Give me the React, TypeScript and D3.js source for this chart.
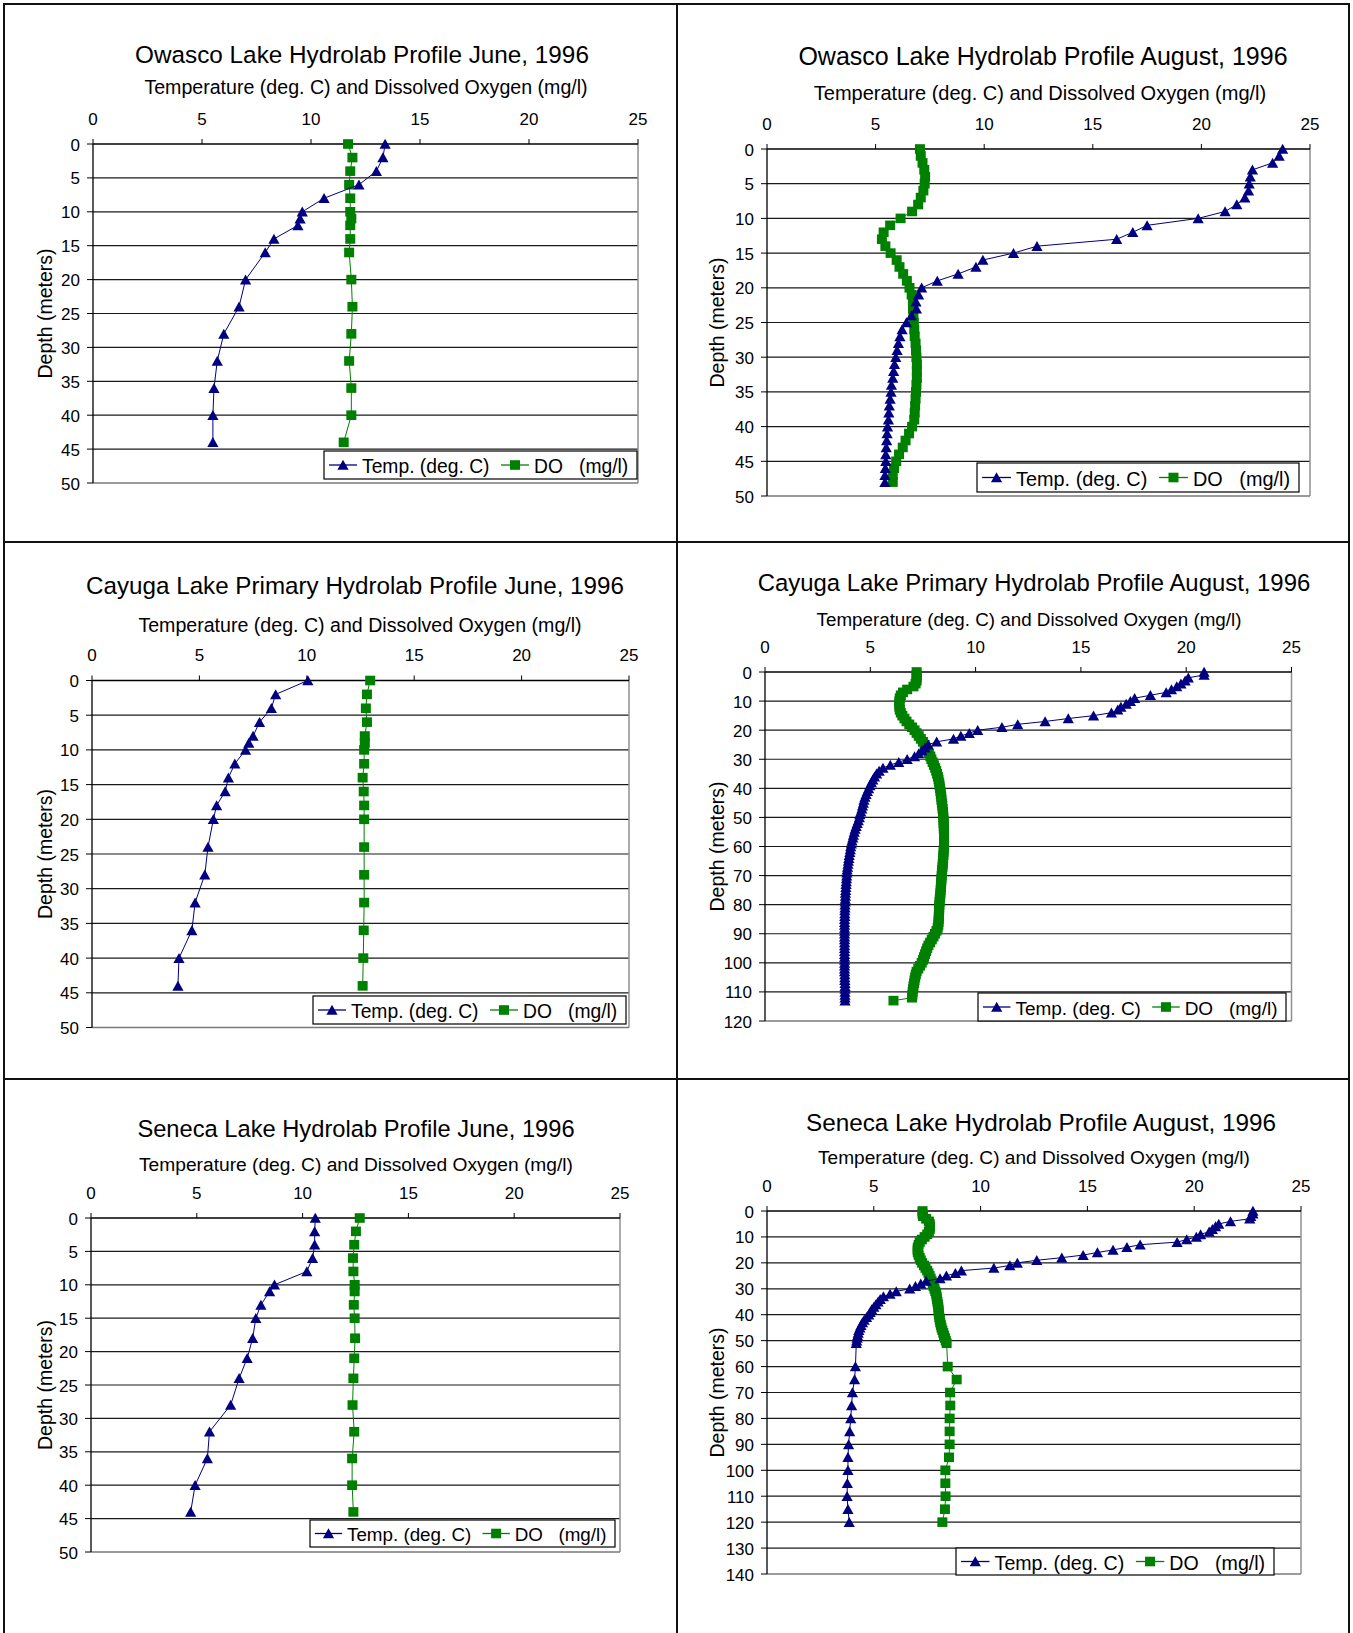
import React from 'react';
import * as d3 from 'd3';

const W = 1353;
const H = 1633;
const FONT = '"Liberation Sans", Arial, Helvetica, sans-serif';
const TEMP_COLOR = '#000080';
const DO_COLOR = '#008000';

// ---- tick labels ----
const xTicks = [0, 5, 10, 15, 20, 25];
const depthTicks50 = [0, 5, 10, 15, 20, 25, 30, 35, 40, 45, 50];
const depthTicks120 = [0, 10, 20, 30, 40, 50, 60, 70, 80, 90, 100, 110, 120];
const depthTicks140 = [0, 10, 20, 30, 40, 50, 60, 70, 80, 90, 100, 110, 120, 130, 140];

// ---- Owasco June ----
const owascoJuneDepth = [0, 2, 4, 6, 8, 10, 11, 12, 14, 16, 20, 24, 28, 32, 36, 40, 44];
const owascoJuneTemp = [13.4, 13.3, 13.0, 12.2, 10.6, 9.6, 9.5, 9.4, 8.3, 7.9, 7.0, 6.7, 6.0, 5.7, 5.55, 5.5, 5.5];
const owascoJuneDO = [11.7, 11.9, 11.8, 11.75, 11.8, 11.8, 11.85, 11.8, 11.8, 11.75, 11.85, 11.9, 11.85, 11.75, 11.85, 11.85, 11.5];

// ---- Owasco August ----
const owascoAugDepth = [
  0, 1, 2, 3, 4, 5, 6, 7, 8, 9, 10, 11, 12, 13, 14, 15, 16, 17, 18, 19, 20, 21, 22, 23, 24,
  25, 26, 27, 28, 29, 30, 31, 32, 33, 34, 35, 36, 37, 38, 39, 40, 41, 42, 43, 44, 45, 46, 47, 48,
];
const owascoAugTemp = [
  23.74, 23.58, 23.28, 22.35, 22.25, 22.2, 22.17, 22.0, 21.63, 21.09,
  19.85, 17.5, 16.84, 16.1, 12.43, 11.35, 9.94, 9.62, 8.8, 7.84,
  7.12, 6.98, 6.86, 6.88, 6.65, 6.42, 6.22, 6.12, 6.05, 5.99,
  5.93, 5.87, 5.83, 5.79, 5.73, 5.71, 5.67, 5.63, 5.61, 5.59,
  5.55, 5.53, 5.51, 5.49, 5.47, 5.47, 5.45, 5.43, 5.43,
];
const owascoAugDO = [
  7.04, 7.08, 7.16, 7.24, 7.28, 7.26, 7.2, 7.08, 6.96, 6.68,
  6.15, 5.67, 5.37, 5.29, 5.45, 5.69, 5.97, 6.1, 6.27, 6.44,
  6.56, 6.66, 6.72, 6.72, 6.74, 6.76, 6.78, 6.8, 6.84, 6.86,
  6.88, 6.9, 6.9, 6.9, 6.88, 6.86, 6.84, 6.82, 6.8, 6.78,
  6.68, 6.54, 6.38, 6.25, 6.08, 5.95, 5.85, 5.79, 5.79,
];

// ---- Cayuga June ----
const cayugaJuneDepth = [0, 2, 4, 6, 8, 9, 10, 12, 14, 16, 18, 20, 24, 28, 32, 36, 40, 44];
const cayugaJuneTemp = [10.05, 8.55, 8.35, 7.8, 7.5, 7.3, 7.15, 6.65, 6.35, 6.2, 5.8, 5.65, 5.4, 5.25, 4.8, 4.65, 4.05, 4.0];
const cayugaJuneDO = [12.95, 12.8, 12.75, 12.8, 12.7, 12.7, 12.67, 12.67, 12.6, 12.65, 12.67, 12.67, 12.67, 12.67, 12.67, 12.65, 12.63, 12.6];

// ---- Cayuga August ----
const cayugaAugDepth = [
  0, 1, 2, 3, 4, 5, 6, 7, 8, 9, 10, 11, 12, 13, 14, 15, 16, 17, 18, 19,
  20, 21, 22, 23, 24, 25, 26, 27, 28, 29, 30, 31, 32, 33, 34, 35, 36, 37, 38, 39,
  40, 41, 42, 43, 44, 45, 46, 47, 48, 49, 50, 51, 52, 53, 54, 55, 56, 57, 58, 59,
  60, 61, 62, 63, 64, 65, 66, 67, 68, 69, 70, 71, 72, 73, 74, 75, 76, 77, 78, 79,
  80, 81, 82, 83, 84, 85, 86, 87, 88, 89, 90, 91, 92, 93, 94, 95, 96, 97, 98, 99,
  100, 101, 102, 103, 104, 105, 106, 107, 108, 109, 110, 111, 112, 113,
];
const cayugaAugTemp = [
  20.85, 20.85, 20.1, 19.95, 19.75, 19.55, 19.3, 19.05, 18.3, 17.55,
  17.35, 17.15, 16.9, 16.75, 16.45, 15.6, 14.4, 13.3, 12.0, 11.25,
  10.1, 9.7, 9.3, 8.95, 8.15, 7.75, 7.6, 7.45, 7.3, 7.1,
  6.75, 6.35, 5.95, 5.6, 5.42, 5.3, 5.2, 5.12, 5.05, 4.98,
  4.92, 4.86, 4.8, 4.75, 4.7, 4.67, 4.63, 4.6, 4.55, 4.5,
  4.48, 4.43, 4.38, 4.33, 4.28, 4.24, 4.2, 4.17, 4.13, 4.1,
  4.07, 4.05, 4.03, 4.0, 3.98, 3.96, 3.94, 3.92, 3.9, 3.89,
  3.88, 3.87, 3.86, 3.85, 3.84, 3.83, 3.82, 3.82, 3.81, 3.81,
  3.8, 3.8, 3.79, 3.79, 3.79, 3.78, 3.78, 3.78, 3.78, 3.78,
  3.78, 3.78, 3.78, 3.78, 3.78, 3.78, 3.78, 3.78, 3.78, 3.78,
  3.78, 3.78, 3.78, 3.78, 3.79, 3.79, 3.79, 3.8, 3.8, 3.8,
  3.8, 3.8, 3.8, 3.8,
];
const cayugaAugDO = [
  7.2, 7.2, 7.2, 7.2, 7.15, 7.05, 6.75, 6.55, 6.45, 6.4,
  6.38, 6.38, 6.38, 6.4, 6.45, 6.52, 6.62, 6.72, 6.85, 6.98,
  7.1, 7.2, 7.3, 7.4, 7.5, 7.58, 7.65, 7.72, 7.78, 7.85,
  7.9, 7.96, 8.02, 8.08, 8.13, 8.17, 8.21, 8.24, 8.27, 8.29,
  8.31, 8.33, 8.35, 8.37, 8.38, 8.4, 8.42, 8.43, 8.45, 8.46,
  8.47, 8.48, 8.48, 8.49, 8.49, 8.5, 8.5, 8.5, 8.5, 8.5,
  8.5, 8.49, 8.48, 8.47, 8.46, 8.45, 8.44, 8.43, 8.41, 8.4,
  8.39, 8.38, 8.37, 8.36, 8.35, 8.34, 8.33, 8.32, 8.3, 8.29,
  8.28, 8.27, 8.27, 8.26, 8.25, 8.25, 8.24, 8.23, 8.2, 8.14,
  8.07, 8.0, 7.92, 7.84, 7.76, 7.7, 7.65, 7.6, 7.55, 7.5,
  7.44, 7.36, 7.28, 7.2, 7.16, 7.13, 7.1, 7.08, 7.05, 7.03,
  7.01, 7.0, 6.98, 6.1,
];

// ---- Seneca June ----
const senecaJuneDepth = [0, 2, 4, 6, 8, 10, 11, 13, 15, 18, 21, 24, 28, 32, 36, 40, 44];
const senecaJuneTemp = [10.6, 10.57, 10.57, 10.47, 10.2, 8.67, 8.44, 8.03, 7.79, 7.64, 7.38, 7.0, 6.6, 5.6, 5.5, 4.92, 4.71];
const senecaJuneDO = [12.7, 12.52, 12.44, 12.38, 12.4, 12.46, 12.46, 12.42, 12.46, 12.48, 12.44, 12.4, 12.36, 12.44, 12.34, 12.34, 12.4];

// ---- Seneca August ----
const senecaAugDepth = [
  0, 1, 2, 3, 4, 5, 6, 7, 8, 9, 10, 11, 12, 13, 14, 15, 16, 17, 18, 19,
  20, 21, 22, 23, 24, 25, 26, 27, 28, 29, 30, 31, 32, 33, 34, 35, 36, 37, 38, 39,
  40, 41, 42, 43, 44, 45, 46, 47, 48, 49, 50, 51,
  60, 65, 70, 75, 80, 85, 90, 95, 100, 105, 110, 115, 120,
];
const senecaAugTemp = [
  22.75, 22.75, 22.65, 22.6, 21.7, 21.15, 21.0, 20.85, 20.7, 20.3,
  20.1, 19.65, 19.2, 17.47, 16.85, 16.2, 15.47, 14.8, 13.8, 12.63,
  11.72, 11.37, 10.62, 9.1, 8.82, 8.4, 8.1, 7.45, 7.2, 6.95,
  6.68, 6.05, 5.76, 5.45, 5.3, 5.2, 5.1, 5.0, 4.9, 4.83,
  4.76, 4.66, 4.55, 4.47, 4.4, 4.35, 4.3, 4.27, 4.24, 4.22,
  4.2, 4.18,
  4.14, 4.1, 4.0, 3.96, 3.92, 3.87, 3.82, 3.79, 3.79, 3.76, 3.75, 3.79, 3.85,
];
const senecaAugDO = [
  7.28, 7.28, 7.3, 7.45, 7.58, 7.62, 7.63, 7.62, 7.58, 7.5,
  7.38, 7.25, 7.15, 7.1, 7.06, 7.05, 7.06, 7.1, 7.15, 7.2,
  7.26, 7.35, 7.42, 7.5, 7.56, 7.61, 7.66, 7.71, 7.76, 7.8,
  7.84, 7.88, 7.92, 7.94, 7.96, 7.98, 8.0, 8.02, 8.03, 8.04,
  8.05, 8.07, 8.09, 8.11, 8.14, 8.17, 8.21, 8.25, 8.29, 8.33,
  8.37, 8.41,
  8.46, 8.88, 8.57, 8.58, 8.55, 8.55, 8.55, 8.52, 8.35, 8.35, 8.36, 8.33, 8.21,
];

const SUBTITLE = 'Temperature (deg. C) and Dissolved Oxygen (mg/l)';

// layout of each panel (plot rect, text positions, legend box)
const panels = [
  {
    title: 'Owasco Lake Hydrolab Profile June, 1996',
    depth: owascoJuneDepth, temp: owascoJuneTemp, dox: owascoJuneDO, yTicks: depthTicks50,
    x: 93, y: 144, w: 545, h: 339, titleX: 362, titleY: 54, tfs: 24.3, subX: 366, subY: 87, sfs: 19.6,
    yTitleX: 45, legend: [324, 451, 313, 28],
  },
  {
    title: 'Owasco Lake Hydrolab Profile August, 1996',
    depth: owascoAugDepth, temp: owascoAugTemp, dox: owascoAugDO, yTicks: depthTicks50,
    x: 767, y: 149, w: 543, h: 347, titleX: 1043, titleY: 56, tfs: 25, subX: 1040, subY: 93, sfs: 20,
    yTitleX: 717, legend: [977, 463, 322, 29],
  },
  {
    title: 'Cayuga Lake Primary Hydrolab Profile June, 1996',
    depth: cayugaJuneDepth, temp: cayugaJuneTemp, dox: cayugaJuneDO, yTicks: depthTicks50,
    x: 92, y: 680.5, w: 537, h: 347, titleX: 355, titleY: 585, tfs: 24.2, subX: 360, subY: 625, sfs: 19.6,
    yTitleX: 45, legend: [313, 996, 313, 28],
  },
  {
    title: 'Cayuga Lake Primary Hydrolab Profile August, 1996',
    depth: cayugaAugDepth, temp: cayugaAugTemp, dox: cayugaAugDO, yTicks: depthTicks120,
    x: 765, y: 672, w: 526.5, h: 349, titleX: 1034, titleY: 582, tfs: 23.9, subX: 1029, subY: 619, sfs: 18.8,
    yTitleX: 717, legend: [978, 993, 308, 28],
  },
  {
    title: 'Seneca Lake Hydrolab Profile June, 1996',
    depth: senecaJuneDepth, temp: senecaJuneTemp, dox: senecaJuneDO, yTicks: depthTicks50,
    x: 91, y: 1218, w: 529, h: 334, titleX: 356, titleY: 1129, tfs: 23.7, subX: 356, subY: 1164, sfs: 19.2,
    yTitleX: 45, legend: [310, 1520, 305, 27],
  },
  {
    title: 'Seneca Lake Hydrolab Profile August, 1996',
    depth: senecaAugDepth, temp: senecaAugTemp, dox: senecaAugDO, yTicks: depthTicks140,
    x: 767, y: 1211, w: 534, h: 363, titleX: 1041, titleY: 1122, tfs: 24.3, subX: 1034, subY: 1157, sfs: 19.1,
    yTitleX: 717, legend: [956, 1548, 318, 27],
  },
];

const TRI = 'M0,-5.2L5.6,4.8L-5.6,4.8Z';

const Triangle = ({ cx, cy }: { cx: number; cy: number }) => (
  <path d={TRI} transform={`translate(${cx},${cy})`} fill={TEMP_COLOR} />
);
const Square = ({ cx, cy }: { cx: number; cy: number }) => (
  <rect x={cx - 5} y={cy - 4.8} width={10} height={9.6} fill={DO_COLOR} />
);

function Panel({ p }: { p: any }) {
  const yMax = p.yTicks[p.yTicks.length - 1];
  const x = d3.scaleLinear().domain([0, 25]).range([p.x, p.x + p.w]);
  const y = d3.scaleLinear().domain([0, yMax]).range([p.y, p.y + p.h]);
  const line = d3.line<[number, number]>();
  const tempPts: [number, number][] = p.depth.map((d: number, i: number) => [x(p.temp[i]), y(d)]);
  const doPts: [number, number][] = p.depth.map((d: number, i: number) => [x(p.dox[i]), y(d)]);
  const [lx, ly, lw, lh] = p.legend;
  const lcy = ly + lh / 2;
  const k = lw / 313; // legend content scale

  return (
    <g fontFamily={FONT} fill="#000">
      <text x={p.titleX} y={p.titleY} textAnchor="middle" dominantBaseline="central" fontSize={p.tfs}>
        {p.title}
      </text>
      <text x={p.subX} y={p.subY} textAnchor="middle" dominantBaseline="central" fontSize={p.sfs}>
        {SUBTITLE}
      </text>

      {/* gridlines */}
      {p.yTicks.slice(1, -1).map((t: number) => (
        <line key={`g${t}`} x1={p.x} x2={p.x + p.w} y1={y(t)} y2={y(t)} stroke="#1a1a1a" strokeWidth={1.2} />
      ))}
      {/* plot border right / bottom */}
      <line x1={p.x + p.w} x2={p.x + p.w} y1={p.y} y2={p.y + p.h} stroke="#909090" strokeWidth={1.5} />
      <line x1={p.x} x2={p.x + p.w} y1={p.y + p.h} y2={p.y + p.h} stroke="#7a7a7a" strokeWidth={1.5} />

      {/* top axis */}
      <line x1={p.x} x2={p.x + p.w} y1={p.y} y2={p.y} stroke="#000" strokeWidth={1.3} />
      {xTicks.map((t) => (
        <g key={`x${t}`}>
          <line x1={x(t)} x2={x(t)} y1={p.y - 5} y2={p.y} stroke="#000" strokeWidth={1} />
          <text x={x(t)} y={p.y - 25} textAnchor="middle" dominantBaseline="central" fontSize={17}>
            {t}
          </text>
        </g>
      ))}

      {/* left axis */}
      <line x1={p.x} x2={p.x} y1={p.y} y2={p.y + p.h} stroke="#000" strokeWidth={1.3} />
      {p.yTicks.map((t: number) => (
        <g key={`y${t}`}>
          <line x1={p.x - 6} x2={p.x} y1={y(t)} y2={y(t)} stroke="#000" strokeWidth={1} />
          <text x={p.x - 13} y={y(t) + 1} textAnchor="end" dominantBaseline="central" fontSize={17}>
            {t}
          </text>
        </g>
      ))}
      <text
        transform={`translate(${p.yTitleX},${p.y + p.h / 2}) rotate(-90)`}
        textAnchor="middle"
        dominantBaseline="central"
        fontSize={19.5}
      >
        Depth (meters)
      </text>

      {/* DO series */}
      <path d={line(doPts) ?? ''} fill="none" stroke={DO_COLOR} strokeWidth={1} />
      {doPts.map(([cx, cy], i) => (
        <Square key={`d${i}`} cx={cx} cy={cy} />
      ))}

      {/* Temperature series */}
      <path d={line(tempPts) ?? ''} fill="none" stroke={TEMP_COLOR} strokeWidth={1} />
      {tempPts.map(([cx, cy], i) => (
        <Triangle key={`t${i}`} cx={cx} cy={cy} />
      ))}

      {/* legend */}
      <rect x={lx} y={ly} width={lw} height={lh} fill="#fff" stroke="#000" strokeWidth={1.2} />
      <line x1={lx + 5 * k} x2={lx + 33 * k} y1={lcy} y2={lcy} stroke={TEMP_COLOR} strokeWidth={1.3} />
      <Triangle cx={lx + 19 * k} cy={lcy} />
      <text x={lx + 38 * k} y={lcy + 1} dominantBaseline="central" fontSize={19.3 * k}>
        Temp. (deg. C)
      </text>
      <line x1={lx + 177 * k} x2={lx + 205 * k} y1={lcy} y2={lcy} stroke={DO_COLOR} strokeWidth={1.3} />
      <Square cx={lx + 191 * k} cy={lcy} />
      <text x={lx + 210 * k} y={lcy + 1} dominantBaseline="central" fontSize={19.3 * k} style={{ whiteSpace: 'pre' }}>
        {'DO   (mg/l)'}
      </text>
    </g>
  );
}

export default function App() {
  return (
    <svg
      width={W}
      height={H}
      viewBox={`0 0 ${W} ${H}`}
      style={{ position: 'absolute', left: 0, top: 0, background: '#fff' }}
    >
      <rect x={0} y={0} width={W} height={H} fill="#fff" />
      {/* frame */}
      <g stroke="#111" strokeWidth={2}>
        <line x1={3} x2={1350} y1={4} y2={4} />
        <line x1={4} x2={4} y1={3} y2={H} />
        <line x1={1349} x2={1349} y1={3} y2={H} />
        <line x1={677} x2={677} y1={3} y2={H} />
        <line x1={4} x2={1349} y1={542} y2={542} />
        <line x1={4} x2={1349} y1={1079} y2={1079} />
      </g>
      {panels.map((p, i) => (
        <Panel key={i} p={p} />
      ))}
    </svg>
  );
}
